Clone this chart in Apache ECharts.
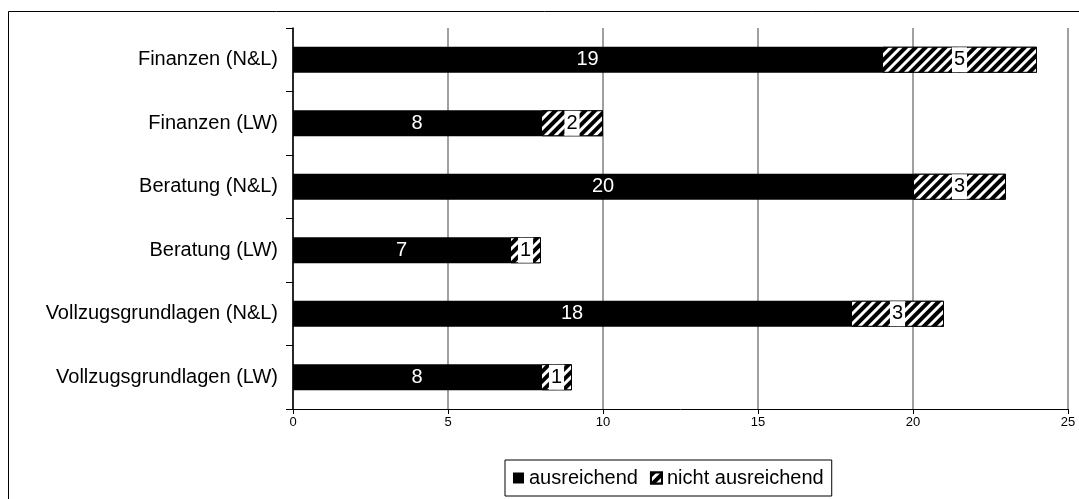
<!DOCTYPE html>
<html>
<head>
<meta charset="utf-8">
<script src="https://cdn.jsdelivr.net/npm/echarts@6/dist/echarts.min.js"></script>
<style>
  html, body { margin: 0; padding: 0; background: #fff; }
  #chart { width: 1079px; height: 499px; }
</style>
</head>
<body>
<div id="chart"></div>
<script>
const categories = ['Finanzen (N&L)', 'Finanzen (LW)', 'Beratung (N&L)', 'Beratung (LW)', 'Vollzugsgrundlagen (N&L)', 'Vollzugsgrundlagen (LW)'];
const ausreichend = [19, 8, 20, 7, 18, 8];
const nichtAusreichend = [5, 2, 3, 1, 3, 1];
const xTicks = [0, 5, 10, 15, 20, 25];

const FONT = '"Liberation Sans", Arial, sans-serif';

const chart = echarts.init(document.getElementById('chart'), null, { renderer: 'canvas' });

chart.setOption({
  animation: false,
  backgroundColor: '#fff',
  textStyle: { fontFamily: FONT },
  graphic: [{
    type: 'rect',
    shape: { x: 8.5, y: 11.5, width: 1100, height: 600 },
    style: { fill: 'none', stroke: '#000', lineWidth: 1 },
    z: -10
  }],
  grid: { left: 293, right: 11, top: 28, bottom: 90 },
  legend: {
    left: 505,
    top: 460,
    padding: [8, 8, 8, 8],
    borderColor: '#000',
    borderWidth: 1,
    itemWidth: 11,
    itemHeight: 11,
    itemGap: 12,
    icon: 'rect',
    textStyle: { fontFamily: FONT, fontSize: 20, color: '#000' },
    data: ['ausreichend', 'nicht ausreichend']
  },
  xAxis: {
    type: 'value',
    min: xTicks[0],
    max: xTicks[xTicks.length - 1],
    interval: 5,
    axisLine: { show: true, lineStyle: { color: '#000', width: 1 } },
    axisTick: { show: true, length: 5, lineStyle: { color: '#000' } },
    axisLabel: { fontSize: 13, color: '#000', margin: 7, fontFamily: FONT },
    splitLine: { show: true, lineStyle: { color: '#808080', width: 1.5 } }
  },
  yAxis: {
    type: 'category',
    inverse: true,
    data: categories,
    axisLine: { show: true, lineStyle: { color: '#000', width: 1.5 } },
    axisTick: { show: true, length: 7, lineStyle: { color: '#000' } },
    axisLabel: { fontSize: 20, color: '#000', margin: 15, fontFamily: FONT },
    splitLine: { show: false }
  },
  series: [
    {
      name: 'ausreichend',
      type: 'bar',
      stack: 'total',
      barWidth: 26,
      data: ausreichend,
      itemStyle: { color: '#000' },
      label: { show: true, position: 'inside', color: '#fff', fontSize: 20, fontFamily: FONT }
    },
    {
      name: 'nicht ausreichend',
      type: 'bar',
      stack: 'total',
      barWidth: 26,
      data: nichtAusreichend,
      itemStyle: {
        color: '#fff',
        borderColor: '#000',
        borderWidth: 1,
        decal: {
          symbol: 'rect',
          symbolSize: 1,
          dashArrayX: [1, 0],
          dashArrayY: [3.5, 3],
          rotation: -Math.PI / 4,
          color: '#000',
          backgroundColor: '#fff'
        }
      },
      label: {
        show: true,
        position: 'inside',
        color: '#000',
        fontSize: 20,
        fontFamily: FONT,
        backgroundColor: '#fff',
        padding: [3, 2, 2, 2]
      }
    }
  ]
});
</script>
</body>
</html>
